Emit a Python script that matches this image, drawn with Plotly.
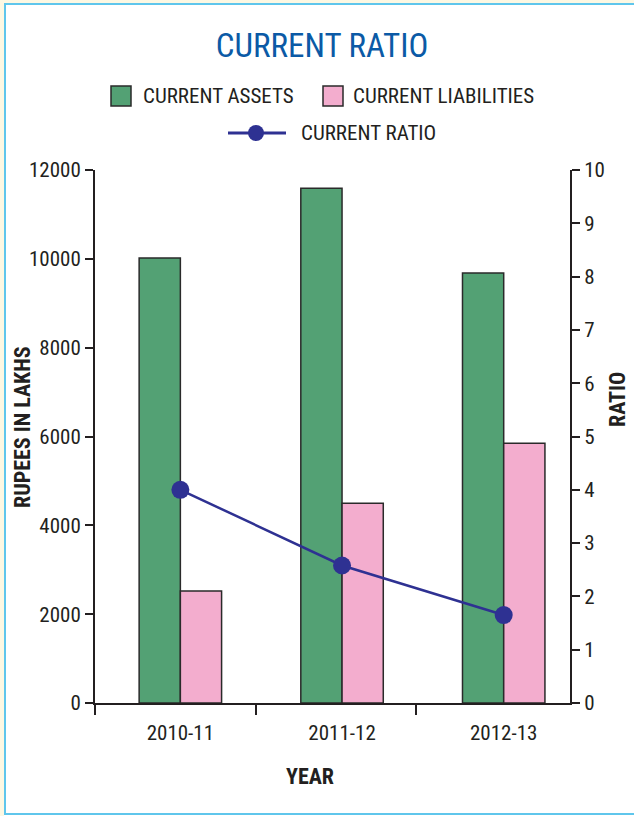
import plotly.graph_objects as go

# ---- data ----
years = ["2010-11", "2011-12", "2012-13"]
current_assets = [10020, 11590, 9680]
current_liabilities = [2520, 4500, 5850]
current_ratio = [4.0, 2.58, 1.65]

left_ticks = [0, 2000, 4000, 6000, 8000, 10000, 12000]
left_labels = [str(v) for v in left_ticks]
right_ticks = list(range(0, 11))

# ---- geometry helpers (figure is 634 x 816 px) ----
W, H = 634, 816
L, R, T, B = 95, 570, 170, 703          # plot-area edges in pixels


def px(x):
    return (x - L) / (R - L)


def py(y):
    return (B - y) / (B - T)


xpos = list(range(len(years)))
bw = 0.255
x_range = [-0.528, 2.41]
boundaries = [-0.528, 0.466, 1.46]

GREEN = "#53a174"
PINK = "#f3adce"
BLUE = "#2e3192"
EDGE = "#2a2a2a"
INK = "#231f20"
NARROW = "Liberation Sans Narrow, Arial Narrow, Roboto Condensed, Liberation Sans, sans-serif"

fig = go.Figure()

fig.add_trace(go.Bar(
    x=xpos, y=current_assets, name="CURRENT ASSETS",
    width=bw, offset=-bw,
    marker=dict(color=GREEN, line=dict(color=EDGE, width=1.5)),
    yaxis="y", showlegend=False,
))
fig.add_trace(go.Bar(
    x=xpos, y=current_liabilities, name="CURRENT LIABILITIES",
    width=bw, offset=0,
    marker=dict(color=PINK, line=dict(color=EDGE, width=1.5)),
    yaxis="y", showlegend=False,
))
fig.add_trace(go.Scatter(
    x=xpos, y=current_ratio, name="CURRENT RATIO",
    mode="lines+markers", yaxis="y2",
    line=dict(color=BLUE, width=2.5),
    marker=dict(color=BLUE, size=18),
    cliponaxis=False, showlegend=False,
))

shapes = []
annotations = []

# outer frame: cream edge strips and a light-blue border
shapes.append(dict(type="rect", xref="paper", yref="paper", layer="below",
                   x0=px(0), x1=px(4), y0=py(0), y1=py(H),
                   fillcolor="#fdf8e3", line=dict(width=0)))
shapes.append(dict(type="rect", xref="paper", yref="paper", layer="below",
                   x0=px(0), x1=px(W), y0=py(0), y1=py(3),
                   fillcolor="#fdf8e3", line=dict(width=0)))
shapes.append(dict(type="rect", xref="paper", yref="paper", layer="below",
                   x0=px(5), x1=px(W + 10), y0=py(4), y1=py(814),
                   fillcolor="rgba(0,0,0,0)", line=dict(color="#5fc6ec", width=2)))

# hand-built legend
def swatch(x0, y0, color):
    shapes.append(dict(type="rect", xref="paper", yref="paper",
                       x0=px(x0), x1=px(x0 + 20), y0=py(y0 + 20), y1=py(y0),
                       fillcolor=color, line=dict(color=EDGE, width=1.5)))


def text_at(x, y, text, size=21, anchor="left", angle=0):
    annotations.append(dict(xref="paper", yref="paper", x=px(x), y=py(y),
                            xanchor=anchor, yanchor="middle", showarrow=False,
                            text=text, textangle=angle,
                            font=dict(family=NARROW, size=size, color=INK)))


swatch(111, 86, GREEN)
text_at(141, 96, "CURRENT ASSETS")
swatch(323, 86, PINK)
text_at(351, 96, "CURRENT LIABILITIES")
shapes.append(dict(type="line", xref="paper", yref="paper",
                   x0=px(228), x1=px(286), y0=py(133), y1=py(133),
                   line=dict(color=BLUE, width=3)))
shapes.append(dict(type="circle", xref="paper", yref="paper",
                   x0=px(248), x1=px(264), y0=py(141), y1=py(125),
                   fillcolor=BLUE, line=dict(color=BLUE, width=0)))
text_at(299, 133, "CURRENT RATIO")

# axis titles
text_at(22, 427, "<b>RUPEES IN LAKHS</b>", size=22, anchor="center", angle=-90)
text_at(617, 400, "<b>RATIO</b>", size=22, anchor="center", angle=-90)
text_at(310, 776, "<b>YEAR</b>", size=22, anchor="center")

fig.update_layout(
    width=W, height=H, autosize=False,
    margin=dict(l=L, r=W - R, t=T, b=H - B, pad=0),
    paper_bgcolor="white", plot_bgcolor="white",
    barmode="overlay",
    title=dict(text="CURRENT RATIO", x=0.508, xanchor="center",
               y=1 - 45 / H, yanchor="middle",
               font=dict(family=NARROW, size=33, color="#0b5aa6")),
    font=dict(family=NARROW, color=INK),
    xaxis=dict(
        range=x_range, tickmode="array", tickvals=xpos, ticktext=years,
        ticks="", showline=True, linecolor=INK, linewidth=2,
        showgrid=False, zeroline=False, ticklabelstandoff=10,
        tickfont=dict(size=21),
        minor=dict(tickmode="array", tickvals=boundaries, ticks="outside",
                   ticklen=10, tickwidth=2, tickcolor=INK, showgrid=False),
    ),
    yaxis=dict(
        range=[0, 12000], tickmode="array", tickvals=left_ticks, ticktext=left_labels,
        ticks="outside", ticklen=8, tickwidth=2, tickcolor=INK,
        showline=True, linecolor=INK, linewidth=2,
        showgrid=False, zeroline=False, tickfont=dict(size=21),
    ),
    yaxis2=dict(
        range=[0, 10], tickmode="array", tickvals=right_ticks,
        overlaying="y", side="right", anchor="x",
        ticks="outside", ticklen=8, tickwidth=2, tickcolor=INK,
        showline=True, linecolor=INK, linewidth=2,
        showgrid=False, zeroline=False, tickfont=dict(size=21),
    ),
    shapes=shapes,
    annotations=annotations,
)

fig.write_html("out.html")
